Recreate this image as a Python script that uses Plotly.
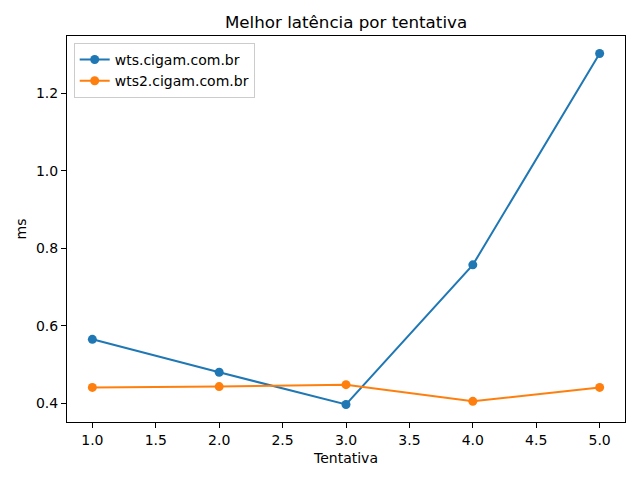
import plotly.graph_objects as go

tentativas = [1, 2, 3, 4, 5]
wts = [0.565, 0.480, 0.397, 0.757, 1.302]
wts2 = [0.441, 0.443, 0.448, 0.405, 0.441]
names = ["wts.cigam.com.br", "wts2.cigam.com.br"]
colors = ["#1f77b4", "#ff7f0e"]

def padded(vals, frac=0.05):
    lo, hi = min(vals), max(vals)
    d = (hi - lo) * frac
    return [lo - d, hi + d]

fig = go.Figure()
for name, ys, c in zip(names, [wts, wts2], colors):
    fig.add_trace(go.Scatter(x=tentativas, y=ys, mode="lines+markers", name=name,
                             line=dict(color=c, width=2), marker=dict(color=c, size=9)))

font = dict(family="DejaVu Sans", size=14, color="black")
fig.update_layout(
    width=640, height=480,
    margin=dict(l=67, r=15, t=36, b=58, autoexpand=False),
    paper_bgcolor="white", plot_bgcolor="white",
    font=font,
    title=dict(text="Melhor latência por tentativa", x=0.5, xref="paper", xanchor="center",
               y=1 - 22/480, yanchor="middle", font=dict(family="DejaVu Sans", size=16.7, color="black")),
    showlegend=True,
    legend=dict(x=0.012, y=0.982, xanchor="left", yanchor="top",
                bgcolor="rgba(255,255,255,0.8)", bordercolor="#cccccc", borderwidth=1,
                font=dict(family="DejaVu Sans", size=14, color="black"), tracegroupgap=0),
)
axis_common = dict(ticks="outside", ticklen=5, tickcolor="black", showline=True, linecolor="black",
                   linewidth=1, mirror=True, showgrid=False, zeroline=False, automargin=False,
                   tickfont=dict(family="DejaVu Sans", size=14, color="black"))
fig.update_xaxes(range=padded(tentativas), tickvals=[1, 1.5, 2, 2.5, 3, 3.5, 4, 4.5, 5],
                 ticktext=["1.0", "1.5", "2.0", "2.5", "3.0", "3.5", "4.0", "4.5", "5.0"],
                 title=dict(text="Tentativa", standoff=6, font=dict(family="DejaVu Sans", size=14, color="black")),
                 **axis_common)
fig.update_yaxes(range=padded(wts + wts2), tickvals=[0.4, 0.6, 0.8, 1.0, 1.2],
                 ticktext=["0.4", "0.6", "0.8", "1.0", "1.2"],
                 title=dict(text="ms", standoff=6, font=dict(family="DejaVu Sans", size=14, color="black")),
                 **axis_common)
fig.write_html("out.html", config={"displayModeBar": False},
               post_script="document.body.style.margin='0';")
